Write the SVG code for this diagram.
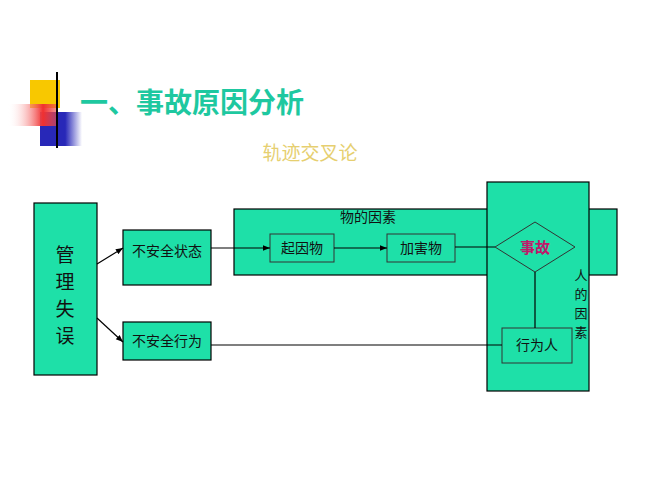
<svg xmlns="http://www.w3.org/2000/svg" width="667" height="500" viewBox="0 0 667 500">
<defs>
<linearGradient id="hl" x1="0" x2="1"><stop offset="0" stop-color="#000"/><stop offset="1" stop-color="#ccc"/></linearGradient>
<linearGradient id="rd" x1="0" x2="1"><stop offset="0" stop-color="#fff" stop-opacity="0"/><stop offset="0.7" stop-color="#f03030"/><stop offset="1" stop-color="#f05050" stop-opacity="0.6"/></linearGradient>
<linearGradient id="bl" x1="0" x2="1"><stop offset="0.6" stop-color="#2828b8"/><stop offset="1" stop-color="#2828b8" stop-opacity="0"/></linearGradient>
<marker id="ar" viewBox="0 0 10 10" refX="10" refY="5" markerWidth="6" markerHeight="6" orient="auto"><path d="M0,1 L10,5 L0,9 z" fill="#000"/></marker>
</defs>
<style>
.b{fill:#1ee0a8;stroke:#000;stroke-width:1.2}
.bi{fill:#1ee0a8;stroke:#333;stroke-width:1}
.t{font-family:"Noto Sans CJK SC",sans-serif;font-size:14px;fill:#111;text-anchor:middle}
.s{font-family:"Noto Sans CJK SC",sans-serif;font-size:13px;fill:#111;text-anchor:middle}
.v{font-family:"Noto Sans CJK SC",sans-serif;font-size:19px;fill:#111;text-anchor:middle}
.c{stroke:#000;stroke-width:1.2;fill:none}
</style>
<rect width="667" height="500" fill="#fff"/>
<g id="deco">
<rect x="30" y="80" width="30" height="28" fill="#f8c800"/>
<rect x="40" y="112" width="42" height="34" fill="url(#bl)"/>
<rect x="8" y="104" width="50" height="22" fill="url(#rd)"/>
<line x1="33" y1="130" x2="600" y2="130" stroke="url(#hl)" stroke-width="2"/>
<line x1="57" y1="72" x2="57" y2="148" stroke="#000" stroke-width="2"/>
<text x="80" y="113" font-family="Noto Sans CJK SC,sans-serif" font-size="28" font-weight="bold" fill="#1ec8a0">一、事故原因分析</text>
<text x="310" y="160" font-family="Noto Sans CJK SC,sans-serif" font-size="19" fill="#e6cf70" text-anchor="middle">轨迹交叉论</text>
</g>
<g id="wu"><rect class="b" x="234" y="209" width="383" height="66"/><text class="t" x="368" y="222">物的因素</text></g>
<g id="ren"><rect class="b" x="487" y="182" width="102" height="209"/>
<text class="s" x="581" y="280">人</text><text class="s" x="581" y="299">的</text><text class="s" x="581" y="318">因</text><text class="s" x="581" y="337">素</text></g>
<g id="guanli"><rect class="b" x="34" y="203" width="63" height="172"/>
<text class="v" x="65" y="262">管</text><text class="v" x="65" y="289">理</text><text class="v" x="65" y="316">失</text><text class="v" x="65" y="343">误</text></g>
<g id="zhuangtai"><rect class="b" x="123" y="230" width="88" height="55"/><text class="t" x="167" y="256">不安全状态</text></g>
<g id="xingwei"><rect class="b" x="123" y="322" width="88" height="38"/><text class="t" x="167" y="346">不安全行为</text></g>
<g id="qiyin"><rect class="bi" x="270" y="234" width="64" height="28"/><text class="t" x="302" y="253">起因物</text></g>
<g id="jiahai"><rect class="bi" x="387" y="234" width="68" height="28"/><text class="t" x="421" y="253">加害物</text></g>
<g id="shigu"><polygon class="bi" points="495,247 535,222 575,247 535,272"/><text x="535" y="253" font-family="Noto Sans CJK SC,sans-serif" font-size="15" font-weight="bold" fill="#c0186a" text-anchor="middle">事故</text></g>
<g id="xingweiren"><rect class="bi" x="502" y="328" width="70" height="35"/><text class="t" x="537" y="350">行为人</text></g>
<g id="connectors">
<line class="c" x1="97" y1="264" x2="123" y2="248" marker-end="url(#ar)"/>
<line class="c" x1="97" y1="318" x2="123" y2="342" marker-end="url(#ar)"/>
<line class="c" x1="211" y1="248" x2="270" y2="248" marker-end="url(#ar)"/>
<line class="c" x1="334" y1="248" x2="387" y2="248" marker-end="url(#ar)"/>
<line class="c" x1="455" y1="247" x2="495" y2="247"/>
<line class="c" x1="535" y1="272" x2="535" y2="328"/>
<line class="c" x1="211" y1="345" x2="502" y2="345"/>
</g>
</svg>
